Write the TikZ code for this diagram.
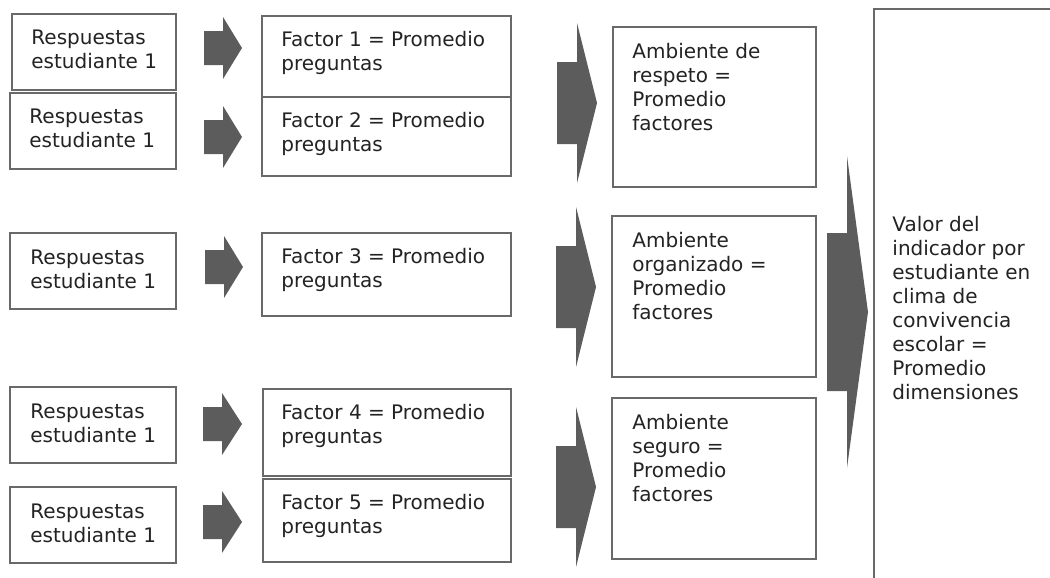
\documentclass[tikz,border=0pt]{standalone}
\usepackage{fontspec}
\setmainfont{DejaVu Sans}
\usetikzlibrary{fit}

\definecolor{boxgray}{RGB}{105,105,105}
\definecolor{arrowgray}{RGB}{92,92,92}
\definecolor{textgray}{RGB}{35,35,35}

\tikzset{every picture/.style={line width=0.75pt}}
\tikzset{
	box/.style={draw=boxgray, line width=1.6pt, inner sep=0pt, fill=white},
	txt/.style={anchor=north west, inner sep=0pt, align=left, text=textgray, font=\fontsize{15}{18}\selectfont},
	blockfill/.style={fill=arrowgray, draw=none},
}

% block arrow: start x, head x, tip x, mid y, shaft half height, head half height
\newcommand{\blockarrow}[6]{%
	\fill[blockfill] (#1,#4-#5) -- (#2,#4-#5) -- (#2,#4-#6) -- (#3,#4) -- (#2,#4+#6) -- (#2,#4+#5) -- (#1,#4+#5) -- cycle ;}

\begin{document}
\begin{tikzpicture}[x=0.75pt,y=0.75pt,yscale=-1,xscale=1]
	\useasboundingbox (0,0) rectangle (1050,578);

	%Shape: Rectangle (respuestas)
	\node[box, fit={(12,14) (176,90)}] (resp1) {};
	\node[box, fit={(10,93) (176,169)}] (resp2) {};
	\node[box, fit={(10,233) (176,309)}] (resp3) {};
	\node[box, fit={(10,387) (176,463)}] (resp4) {};
	\node[box, fit={(10,487) (176,563)}] (resp5) {};

	%Shape: Rectangle (factores)
	\node[box, fit={(262,16) (511,97)}] (fac1) {};
	\node[box, fit={(262,97) (511,176)}] (fac2) {};
	\node[box, fit={(262,233) (511,316)}] (fac3) {};
	\node[box, fit={(263,389) (511,476)}] (fac4) {};
	\node[box, fit={(263,479) (511,562)}] (fac5) {};

	%Shape: Rectangle (ambientes)
	\node[box, fit={(613,27) (816,187)}] (amb1) {};
	\node[box, fit={(612,216) (816,377)}] (amb2) {};
	\node[box, fit={(612,398) (816,559)}] (amb3) {};

	%Shape: Rectangle (valor)
	\node[box, fit={(874,9) (1070,600)}] (valor) {};

	%Shape: Block Arrows
	\blockarrow{204}{223}{242}{48}{17}{31}
	\blockarrow{204}{223}{242}{137}{17}{31}
	\blockarrow{205}{224}{243}{267}{17}{31}
	\blockarrow{203}{222}{242}{424}{17}{31}
	\blockarrow{203}{222}{242}{522}{17}{31}
	\blockarrow{557}{577}{597}{103}{41}{80}
	\blockarrow{556}{576}{596}{287}{41}{80}
	\blockarrow{556}{576}{596}{487}{41}{80}
	\blockarrow{827}{847}{868}{312}{79}{156}

	% Text Node
	\node[txt] (resp1t) at ([shift={(20,16)}]resp1.north west) {Respuestas\\estudiante 1};
	\node[txt] (resp2t) at ([shift={(20,16)}]resp2.north west) {Respuestas\\estudiante 1};
	\node[txt] (resp3t) at ([shift={(21,17)}]resp3.north west) {Respuestas\\estudiante 1};
	\node[txt] (resp4t) at ([shift={(21,17)}]resp4.north west) {Respuestas\\estudiante 1};
	\node[txt] (resp5t) at ([shift={(21,17)}]resp5.north west) {Respuestas\\estudiante 1};
	% Text Node
	\node[txt] (fac1t) at ([shift={(20,16)}]fac1.north west) {Factor 1 = Promedio\\preguntas};
	\node[txt] (fac2t) at ([shift={(20,16)}]fac2.north west) {Factor 2 = Promedio\\preguntas};
	\node[txt] (fac3t) at ([shift={(20,16)}]fac3.north west) {Factor 3 = Promedio\\preguntas};
	\node[txt] (fac4t) at ([shift={(19,16)}]fac4.north west) {Factor 4 = Promedio\\preguntas};
	\node[txt] (fac5t) at ([shift={(19,16)}]fac5.north west) {Factor 5 = Promedio\\preguntas};
	% Text Node
	\node[txt] (amb1t) at ([shift={(20,17)}]amb1.north west) {Ambiente de\\respeto =\\Promedio\\factores};
	\node[txt] (amb2t) at ([shift={(21,17)}]amb2.north west) {Ambiente\\organizado =\\Promedio\\factores};
	\node[txt] (amb3t) at ([shift={(21,17)}]amb3.north west) {Ambiente\\seguro =\\Promedio\\factores};
	% Text Node
	\node[txt] (valort) at ([shift={(19,208)}]valor.north west) {Valor del\\indicador por\\estudiante en\\clima de\\convivencia\\escolar =\\Promedio\\dimensiones};

\end{tikzpicture}
\end{document}
